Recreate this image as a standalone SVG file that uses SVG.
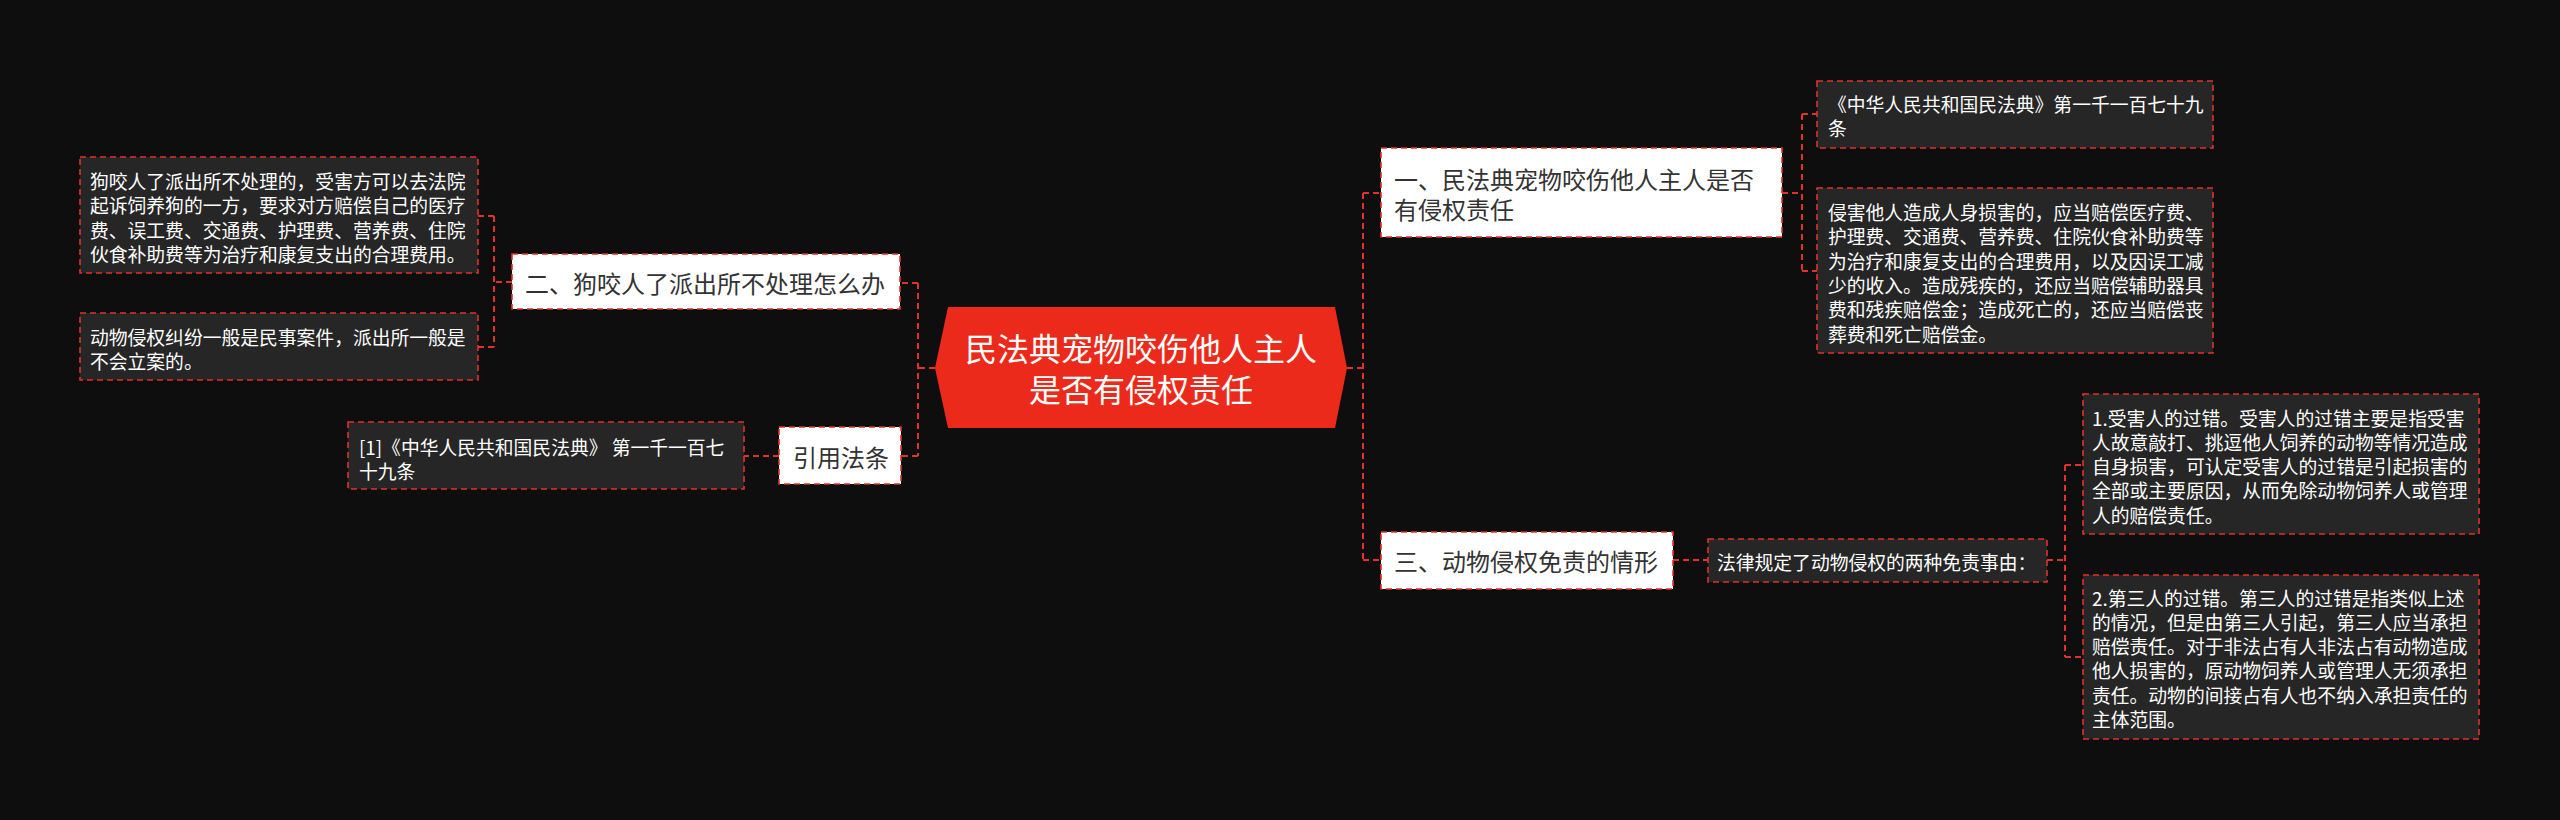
<svg xmlns="http://www.w3.org/2000/svg" width="2560" height="820" viewBox="0 0 2560 820">
<style>
text{font-family:"Microsoft YaHei","Noto Sans CJK SC","Noto Sans",sans-serif;dominant-baseline:central}
.leaf{fill:#262626;stroke:#E0322A;stroke-width:1.6;stroke-dasharray:6 4}
.sub{fill:#FFFFFF;stroke:#E0322A;stroke-width:1.6;stroke-dasharray:6 4}
.lt{fill:#FFFFFF;font-size:18.8px}
.st{fill:#333333;font-size:24px}
.ct{fill:#FFFFFF;font-size:32px}
.con{fill:none;stroke:#E0322A;stroke-width:2;stroke-dasharray:6 4}
</style>
<rect x="0" y="0" width="2560" height="820" fill="#0E0E0E"/>
<g id="connectors">
<path class="con" d="M935 368H918M918 283V456M918 283H900M918 456H901"/>
<path class="con" d="M512 282H494M494 216V347M494 216H478M494 347H478"/>
<path class="con" d="M779 456H744"/>
<path class="con" d="M1347 368H1363M1363 193V560M1363 193H1381M1363 560H1381"/>
<path class="con" d="M1782 193H1802M1802 114V271M1802 114H1817M1802 271H1817"/>
<path class="con" d="M1673 560H1708"/>
<path class="con" d="M2047 560H2065M2065 465V657M2065 465H2083M2065 657H2083"/>
</g>
<g id="center">
<polygon points="935,368 948,307 1335,307 1347,368 1335,428 948,428" fill="#EC2A1B"/>
<text class="ct" x="1141" y="347" text-anchor="middle">民法典宠物咬伤他人主人</text>
<text class="ct" x="1141" y="388" text-anchor="middle">是否有侵权责任</text>
</g>
<g id="node-er">
<rect class="sub" x="512" y="254" width="388" height="55"/>
<text class="st" x="525" y="282">二、狗咬人了派出所不处理怎么办</text>
</g>
<g id="leaf-a1">
<rect class="leaf" x="80" y="157" width="398" height="116"/>
<text class="lt" x="90" y="180">狗咬人了派出所不处理的，受害方可以去法院</text>
<text class="lt" x="90" y="204.5">起诉饲养狗的一方，要求对方赔偿自己的医疗</text>
<text class="lt" x="90" y="229">费、误工费、交通费、护理费、营养费、住院</text>
<text class="lt" x="90" y="253.5">伙食补助费等为治疗和康复支出的合理费用。</text>
</g>
<g id="leaf-a2">
<rect class="leaf" x="80" y="313" width="398" height="67"/>
<text class="lt" x="90" y="336">动物侵权纠纷一般是民事案件，派出所一般是</text>
<text class="lt" x="90" y="360">不会立案的。</text>
</g>
<g id="node-ref">
<rect class="sub" x="779" y="427" width="122" height="57"/>
<text class="st" x="793" y="456">引用法条</text>
</g>
<g id="leaf-ref">
<rect class="leaf" x="348" y="422" width="396" height="67"/>
<text class="lt" x="359" y="446">[1]《中华人民共和国民法典》 第一千一百七</text>
<text class="lt" x="359" y="470">十九条</text>
</g>
<g id="node-yi">
<rect class="sub" x="1381" y="148" width="401" height="89"/>
<text class="st" x="1394" y="178">一、民法典宠物咬伤他人主人是否</text>
<text class="st" x="1394" y="208">有侵权责任</text>
</g>
<g id="leaf-b1">
<rect class="leaf" x="1817" y="81" width="396" height="67"/>
<text class="lt" x="1828" y="103">《中华人民共和国民法典》第一千一百七十九</text>
<text class="lt" x="1828" y="127">条</text>
</g>
<g id="leaf-b2">
<rect class="leaf" x="1817" y="188" width="396" height="165"/>
<text class="lt" x="1828" y="211.5">侵害他人造成人身损害的，应当赔偿医疗费、</text>
<text class="lt" x="1828" y="235.8">护理费、交通费、营养费、住院伙食补助费等</text>
<text class="lt" x="1828" y="260.1">为治疗和康复支出的合理费用，以及因误工减</text>
<text class="lt" x="1828" y="284.4">少的收入。造成残疾的，还应当赔偿辅助器具</text>
<text class="lt" x="1828" y="308.7">费和残疾赔偿金；造成死亡的，还应当赔偿丧</text>
<text class="lt" x="1828" y="333">葬费和死亡赔偿金。</text>
</g>
<g id="node-san">
<rect class="sub" x="1381" y="532" width="292" height="57"/>
<text class="st" x="1394" y="560">三、动物侵权免责的情形</text>
</g>
<g id="leaf-c">
<rect class="leaf" x="1708" y="539" width="339" height="43"/>
<text class="lt" x="1717" y="561">法律规定了动物侵权的两种免责事由：</text>
</g>
<g id="leaf-d1">
<rect class="leaf" x="2083" y="394" width="396" height="140"/>
<text class="lt" x="2092" y="417">1.受害人的过错。受害人的过错主要是指受害</text>
<text class="lt" x="2092" y="441.3">人故意敲打、挑逗他人饲养的动物等情况造成</text>
<text class="lt" x="2092" y="465.6">自身损害，可认定受害人的过错是引起损害的</text>
<text class="lt" x="2092" y="489.9">全部或主要原因，从而免除动物饲养人或管理</text>
<text class="lt" x="2092" y="514.2">人的赔偿责任。</text>
</g>
<g id="leaf-d2">
<rect class="leaf" x="2083" y="575" width="396" height="164"/>
<text class="lt" x="2092" y="597">2.第三人的过错。第三人的过错是指类似上述</text>
<text class="lt" x="2092" y="621.3">的情况，但是由第三人引起，第三人应当承担</text>
<text class="lt" x="2092" y="645.6">赔偿责任。对于非法占有人非法占有动物造成</text>
<text class="lt" x="2092" y="669.9">他人损害的，原动物饲养人或管理人无须承担</text>
<text class="lt" x="2092" y="694.2">责任。动物的间接占有人也不纳入承担责任的</text>
<text class="lt" x="2092" y="718.5">主体范围。</text>
</g>
</svg>
